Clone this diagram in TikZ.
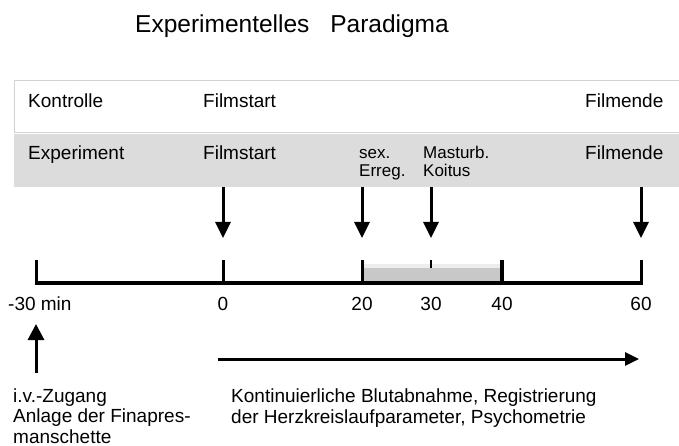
\documentclass[tikz,border=0pt]{standalone}
\usepackage{fontspec}
\setmainfont{Liberation Sans}
\usetikzlibrary{arrows.meta}
\definecolor{rowgray}{HTML}{DCDCDC}
\definecolor{bargray}{HTML}{C8C8C8}
\definecolor{barlight}{HTML}{EDEDED}
\definecolor{framegray}{HTML}{D2D2D2}

\begin{document}
\begin{tikzpicture}[x=1pt, y=-1pt,
          txt/.style = {anchor=base west, inner sep=0pt, font=\fontsize{19}{20}\selectfont},
          small/.style = {anchor=base west, inner sep=0pt, font=\fontsize{17}{18}\selectfont},
          num/.style = {anchor=base, inner sep=0pt, font=\fontsize{19}{20}\selectfont},
          marker/.style = {line width=3pt, -{Triangle[width=15pt, length=16pt]}},
          tick/.style = {line width=3pt}]
        \useasboundingbox (0,0) rectangle (679,446);
        % title
        \node[anchor=base west, inner sep=0pt, font=\fontsize{24.5}{26}\selectfont] (title) at (135,33)
             {Experimentelles\hspace{0.85em}Paradigma};
        % the two rows
        \draw[framegray, fill=white] (14,80) rectangle (690,132);
        \fill[rowgray] (14,134) rectangle (690,187);
        \node[txt] (kon) at (28,108) {Kontrolle};
        \node[txt] (konstart) at (203,108) {Filmstart};
        \node[txt] (konende) at (585,108) {Filmende};
        \node[txt] (exp) at (28,160) {Experiment};
        \node[txt] (expstart) at (203,160) {Filmstart};
        \node[txt] (expende) at (585,160) {Filmende};
        \node[small] (sex) at (359,159) {sex.};
        \node[small] (erreg) at (359,177) {Erreg.};
        \node[small] (mast) at (423,159) {Masturb.};
        \node[small] (koitus) at (423,177) {Koitus};
        % time axis
        \fill[barlight] (364,264) rectangle (501,284);
        \fill[bargray] (364,268) rectangle (501,284);
        \coordinate (tm30) at (36,283);
        \coordinate (t0) at (223,283);
        \coordinate (t20) at (362,283);
        \coordinate (t30) at (431,268);
        \coordinate (t40) at (502,283);
        \coordinate (t60) at (641,283);
        \draw[line width=3.5pt] (tm30) -- (t60);
        \foreach \n in {tm30, t0, t20, t60}
                 {
                   \draw[tick] ([yshift=-1.7pt]\n) -- ++(0,-24.7);
                 }
        \draw[line width=4pt] ([yshift=-1.7pt]t40) -- ++(0,-24.7);
        \draw[line width=2.2pt] (t30) -- ++(0,-8);
        \node[txt] (lm30) at (8,310) {-30 min};
        \node[num] (l0) at (223,310) {0};
        \node[num] (l20) at (362,310) {20};
        \node[num] (l30) at (431,310) {30};
        \node[num] (l40) at (502,310) {40};
        \node[num] (l60) at (641,310) {60};
        % events
        \coordinate (a0) at (223,238);
        \coordinate (a20) at (362,238);
        \coordinate (a30) at (431,238);
        \coordinate (a60) at (641,238);
        \foreach \n in {a0, a20, a30, a60}
                 {
                   \draw[marker] ([yshift=51pt]\n) -- (\n);
                 }
        % bottom notes
        \node[txt] (zug1) at (13,402) {i.v.-Zugang};
        \node[txt] (zug2) at (13,422.5) {Anlage der Finapres-};
        \node[txt] (zug3) at (13,443) {manschette};
        \node[txt] (blut1) at (231,402) {Kontinuierliche Blutabnahme, Registrierung};
        \node[txt] (blut2) at (231,423) {der Herzkreislaufparameter, Psychometrie};
        \coordinate (up) at (36,324);
        \coordinate (runstart) at (218,359);
        \coordinate (runend) at (639,359);
        \draw[marker, -{Triangle[width=16pt, length=16pt]}] ([yshift=-49pt]up) -- (up);
        \draw[marker, -{Triangle[width=13pt, length=14pt]}] (runstart) -- (runend);
      \end{tikzpicture}
\end{document}
